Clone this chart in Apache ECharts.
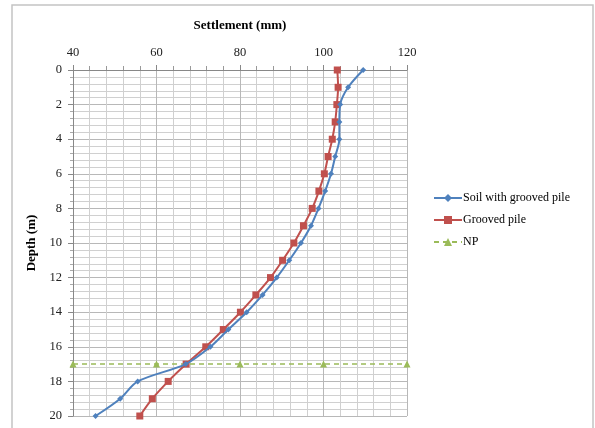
<!DOCTYPE html>
<html>
<head>
<meta charset="utf-8">
<script src="https://cdn.jsdelivr.net/npm/echarts@6/dist/echarts.min.js"></script>
<style>
html,body{margin:0;padding:0;background:#fff;}
#c{width:595px;height:428px;}
</style>
</head>
<body>
<div id="c"></div>
<script>
var depths = [0,1,2,3,4,5,6,7,8,9,10,11,12,13,14,15,16,17,18,19,20];
var soilWithGroovedPile = [109.5,105.9,104.0,103.8,103.8,102.8,101.8,100.4,98.8,97.0,94.6,91.8,88.8,85.4,81.6,77.2,72.9,67.0,55.5,51.3,45.4];
var groovedPile = [103.3,103.5,103.2,102.8,102.1,101.1,100.2,98.9,97.3,95.2,92.9,90.2,87.3,83.8,80.1,76.0,71.8,67.1,62.8,59.0,56.0];
var npSettlement = [40,60,80,100,120];
var npDepth = [17,17,17,17,17];
var seriesNames = ['Soil with grooved pile','Grooved pile','NP'];

function pairs(xs, ys){ return xs.map(function(x,i){ return [x, ys[i]]; }); }

var font = '"Liberation Serif","Times New Roman",serif';
var chart = echarts.init(document.getElementById('c'), null, {renderer:'canvas'});
chart.setOption({
  animation:false,
  backgroundColor:'#fff',
  textStyle:{fontFamily:font},
  graphic:[{type:'rect', shape:{x:12,y:5,width:581,height:440}, style:{fill:'none', stroke:'#c4c4c4', lineWidth:1.5}, silent:true}],
  grid:{left:73, top:70, width:334, height:346},
  legend:{
    orient:'vertical', left:433, top:192, padding:0, itemWidth:28, itemHeight:10, itemGap:10,
    data:seriesNames,
    textStyle:{fontFamily:font, fontSize:12, color:'#000', padding:[0,0,0,-4]}
  },
  xAxis:{
    type:'value', position:'top', min:40, max:120, interval:20,
    name:'Settlement (mm)', nameLocation:'middle', nameGap:38,
    nameTextStyle:{fontFamily:font, fontSize:13, fontWeight:'bold', color:'#000'},
    axisLine:{show:true, lineStyle:{color:'#888', width:1}},
    axisTick:{show:true, length:5, lineStyle:{color:'#888'}},
    minorTick:{show:true, splitNumber:5, length:4, lineStyle:{color:'#999'}},
    axisLabel:{fontFamily:font, fontSize:12.5, color:'#222', margin:11},
    splitLine:{show:true, lineStyle:{color:'#b8b8b8', width:1}},
    minorSplitLine:{show:true, lineStyle:{color:'#d0d0d0', width:1}}
  },
  yAxis:{
    type:'value', inverse:true, min:0, max:20, interval:2,
    name:'Depth (m)', nameLocation:'middle', nameGap:29, nameRotate:90,
    nameTextStyle:{fontFamily:font, fontSize:13, fontWeight:'bold', color:'#000'},
    axisLine:{show:true, lineStyle:{color:'#888', width:1}},
    axisTick:{show:true, length:5, lineStyle:{color:'#888'}},
    minorTick:{show:true, splitNumber:5, length:3, lineStyle:{color:'#aaa'}},
    axisLabel:{fontFamily:font, fontSize:12.5, color:'#222', margin:11},
    splitLine:{show:true, lineStyle:{color:'#b8b8b8', width:1}},
    minorSplitLine:{show:true, lineStyle:{color:'#d0d0d0', width:1}}
  },
  series:[
    {name:seriesNames[0], type:'line', data:pairs(soilWithGroovedPile, depths), smooth:0.3,
     symbol:'diamond', symbolSize:6, color:'#4F81BD', lineStyle:{width:2, color:'#4F81BD'}, itemStyle:{color:'#4F81BD'}, z:3},
    {name:seriesNames[1], type:'line', data:pairs(groovedPile, depths), smooth:0.3,
     symbol:'rect', symbolSize:7, color:'#C0504D', lineStyle:{width:2, color:'#C0504D'}, itemStyle:{color:'#C0504D'}, z:2},
    {name:seriesNames[2], type:'line', data:pairs(npSettlement, npDepth),
     symbol:'triangle', symbolSize:7, color:'#9BBB59', lineStyle:{width:1.5, type:[5,4], color:'#9BBB59'}, itemStyle:{color:'#9BBB59'}, z:1}
  ]
});
</script>
</body>
</html>
